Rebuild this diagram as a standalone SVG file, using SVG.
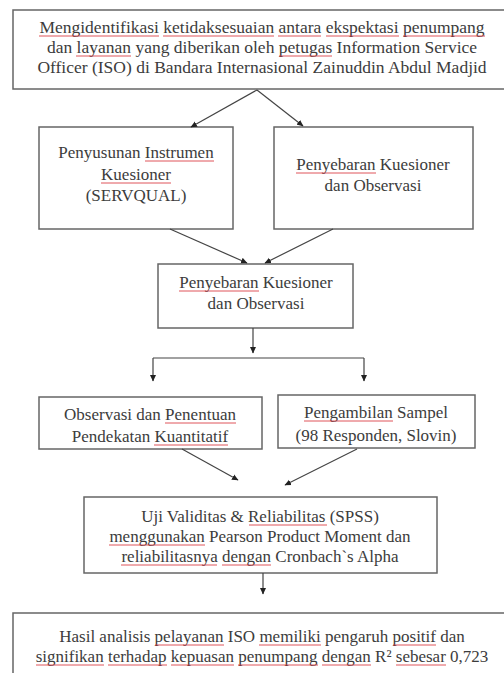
<svg xmlns="http://www.w3.org/2000/svg" width="504" height="673" viewBox="0 0 504 673">
<defs>
<style>
.box{fill:#fff;stroke:#666;stroke-width:1.5}
.t{font-family:"Liberation Serif","Times New Roman",serif;font-size:17px;fill:#3c3c3c;text-anchor:middle}
.tl{font-size:17.5px}
.r{fill:none;stroke:#d9363e;stroke-width:1;opacity:0.85}
.c{fill:none;stroke:#444;stroke-width:1.2}
</style>
<marker id="ah" markerWidth="7" markerHeight="7" refX="6" refY="3.5" orient="auto" markerUnits="userSpaceOnUse">
<path d="M0,0.5 L6.5,3.5 L0,6.5 z" fill="#222"/>
</marker>
</defs>
<rect width="504" height="673" fill="#fff"/>
<g id="n1">
<rect class="box" x="13" y="10" width="495" height="79"/>
<text class="t tl" x="262" y="33">Mengidentifikasi ketidaksesuaian antara ekspektasi penumpang</text>
<text class="t tl" x="262" y="53">dan layanan yang diberikan oleh petugas Information Service</text>
<text class="t tl" x="262" y="73">Officer (ISO) di Bandara Internasional Zainuddin Abdul Madjid</text>
<path class="r" d="M39,36 H159 M163,36 H274 M278,36 H321 M326,36 H399 M403,36 H485 M76,56 H131 M279,56 H332"/>
</g>
<g id="n2">
<rect class="box" x="39" y="127" width="194" height="102"/>
<text class="t" x="136" y="158">Penyusunan Instrumen</text>
<text class="t" x="136" y="180">Kuesioner</text>
<text class="t" x="136" y="201">(SERVQUAL)</text>
<path class="r" d="M145,161 H214 M101,183 H171"/>
</g>
<g id="n3">
<rect class="box" x="274" y="127" width="199" height="102"/>
<text class="t" x="373" y="170">Penyebaran Kuesioner</text>
<text class="t" x="373" y="191">dan Observasi</text>
<path class="r" d="M296,173 H376"/>
</g>
<g id="n4">
<rect class="box" x="158" y="264" width="195" height="64"/>
<text class="t" x="256" y="288">Penyebaran Kuesioner</text>
<text class="t" x="256" y="309">dan Observasi</text>
<path class="r" d="M179,291 H259"/>
</g>
<g id="n5">
<rect class="box" x="39" y="397" width="223" height="52"/>
<text class="t" x="150" y="420">Observasi dan Penentuan</text>
<text class="t" x="150" y="442">Pendekatan Kuantitatif</text>
<path class="r" d="M165,423 H236 M154,445 H228"/>
</g>
<g id="n6">
<rect class="box" x="278" y="395" width="197" height="53"/>
<text class="t" x="376" y="418">Pengambilan Sampel</text>
<text class="t" x="376" y="441">(98 Responden, Slovin)</text>
<path class="r" d="M304,421 H393"/>
</g>
<g id="n7">
<rect class="box" x="84" y="497" width="353" height="76"/>
<text class="t" x="260" y="522">Uji Validitas &amp; Reliabilitas (SPSS)</text>
<text class="t" x="260" y="542">menggunakan Pearson Product Moment dan</text>
<text class="t" x="260" y="562">reliabilitasnya dengan Cronbach`s Alpha</text>
<path class="r" d="M249,525 H327 M109,545 H205 M121,565 H217 M222,565 H271"/>
</g>
<g id="n8">
<rect class="box" x="13" y="613" width="495" height="70"/>
<text class="t" x="262" y="642">Hasil analisis pelayanan ISO memiliki pengaruh positif dan</text>
<text class="t" x="262" y="662">signifikan terhadap kepuasan penumpang dengan R² sebesar 0,723</text>
<path class="r" d="M155,645 H224 M259,645 H321 M393,645 H436 M36,665 H104 M108,665 H167 M171,665 H234 M238,665 H318 M322,665 H371 M396,665 H446"/>
</g>
<g id="connectors">
<path class="c" d="M257,90 L191,127" marker-end="url(#ah)"/>
<path class="c" d="M257,90 L303,126" marker-end="url(#ah)"/>
<path class="c" d="M170,229 L247,263" marker-end="url(#ah)"/>
<path class="c" d="M333,229 L265,263" marker-end="url(#ah)"/>
<path class="c" d="M253,328 L253,353" marker-end="url(#ah)"/>
<path class="c" d="M153,358 L364,358"/>
<path class="c" d="M153,358 L153,381" marker-end="url(#ah)"/>
<path class="c" d="M364,358 L364,381" marker-end="url(#ah)"/>
<path class="c" d="M182,449 L238,480" marker-end="url(#ah)"/>
<path class="c" d="M357,449 L285,485" marker-end="url(#ah)"/>
<path class="c" d="M263,573 L263,594" marker-end="url(#ah)"/>
</g>
</svg>
